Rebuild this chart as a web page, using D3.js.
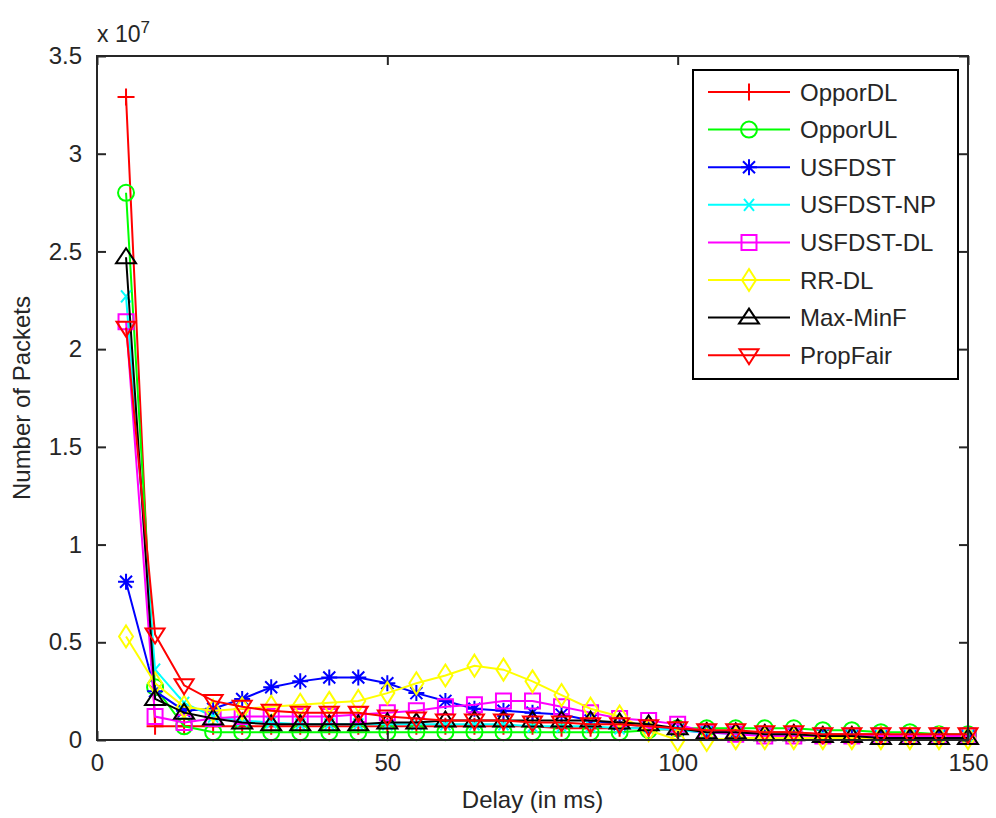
<!DOCTYPE html>
<html>
<head>
<meta charset="utf-8">
<script src="https://cdn.jsdelivr.net/npm/d3@7"></script>
<style>
  html, body { margin: 0; padding: 0; background: #fff; }
  svg { display: block; font-family: "Liberation Sans", Arial, Helvetica, sans-serif; }
</style>
</head>
<body>
<svg id="chart" width="996" height="818"></svg>
<script>
// Delay bins (ms)
const delays = d3.range(5, 151, 5);

// Number of packets per delay bin, in units of 10^7
const opporDL   = [3.29, 0.07, 0.07, 0.07, 0.07, 0.07, 0.07, 0.07, 0.07, 0.07, 0.07, 0.07, 0.07, 0.07, 0.07, 0.06, 0.06, 0.06, 0.06, 0.05, 0.05, 0.04, 0.04, 0.04, 0.03, 0.03, 0.03, 0.02, 0.02, 0.02];
const opporUL   = [2.80, 0.27, 0.07, 0.04, 0.04, 0.04, 0.04, 0.04, 0.04, 0.04, 0.04, 0.04, 0.04, 0.04, 0.04, 0.04, 0.04, 0.04, 0.05, 0.06, 0.06, 0.06, 0.06, 0.06, 0.05, 0.05, 0.04, 0.04, 0.03, 0.03];
const usfdst    = [0.81, 0.25, 0.15, 0.16, 0.21, 0.27, 0.30, 0.32, 0.32, 0.29, 0.24, 0.20, 0.16, 0.15, 0.14, 0.13, 0.10, 0.08, 0.07, 0.05, 0.04, 0.04, 0.03, 0.03, 0.03, 0.02, 0.02, 0.02, 0.02, 0.02];
const usfdstNP  = [2.27, 0.36, 0.19, 0.12, 0.10, 0.09, 0.08, 0.08, 0.08, 0.08, 0.08, 0.08, 0.08, 0.08, 0.07, 0.07, 0.07, 0.06, 0.06, 0.05, 0.04, 0.03, 0.03, 0.03, 0.03, 0.02, 0.02, 0.02, 0.02, 0.02];
const usfdstDL  = [2.14, 0.12, 0.09, 0.11, 0.12, 0.12, 0.12, 0.12, 0.13, 0.14, 0.15, 0.17, 0.18, 0.20, 0.20, 0.17, 0.14, 0.11, 0.10, 0.08, 0.04, 0.03, 0.02, 0.02, 0.02, 0.02, 0.02, 0.02, 0.02, 0.02];
const rrDL      = [0.53, 0.29, 0.17, 0.15, 0.16, 0.17, 0.18, 0.19, 0.20, 0.24, 0.29, 0.33, 0.38, 0.36, 0.30, 0.23, 0.16, 0.12, 0.05, 0.00, 0.00, 0.01, 0.01, 0.01, 0.01, 0.01, 0.01, 0.01, 0.01, 0.01];
const maxMinF   = [2.47, 0.21, 0.14, 0.11, 0.09, 0.08, 0.08, 0.08, 0.08, 0.09, 0.09, 0.10, 0.10, 0.10, 0.10, 0.10, 0.10, 0.09, 0.08, 0.06, 0.04, 0.04, 0.03, 0.03, 0.02, 0.02, 0.01, 0.01, 0.01, 0.01];
const propFair  = [2.11, 0.54, 0.28, 0.20, 0.17, 0.15, 0.14, 0.14, 0.14, 0.12, 0.11, 0.10, 0.10, 0.10, 0.09, 0.09, 0.08, 0.08, 0.07, 0.06, 0.05, 0.05, 0.04, 0.04, 0.03, 0.03, 0.03, 0.03, 0.03, 0.03];

const seriesNames   = ["OpporDL", "OpporUL", "USFDST", "USFDST-NP", "USFDST-DL", "RR-DL", "Max-MinF", "PropFair"];
const seriesValues  = [opporDL, opporUL, usfdst, usfdstNP, usfdstDL, rrDL, maxMinF, propFair];
const seriesColors  = ["#ff0000", "#00ff00", "#0000ff", "#00ffff", "#ff00ff", "#ffff00", "#000000", "#ff0000"];
const seriesMarkers = ["plus", "circle", "star", "cross", "square", "diamond", "triUp", "triDown"];

const xTicks = [0, 50, 100, 150];
const yTicks = [0, 0.5, 1, 1.5, 2, 2.5, 3, 3.5];
const yExponent = 7;

const svg = d3.select("#chart");
const plotBox = { left: 97, right: 968, top: 56, bottom: 740 };

const x = d3.scaleLinear().domain([0, 150]).range([plotBox.left, plotBox.right]);
const y = d3.scaleLinear().domain([0, 3.5]).range([plotBox.bottom, plotBox.top]);

// marker glyphs centred on the origin
const markerPaths = {
  plus:    "M-8.5,0H8.5M0,-8.5V8.5",
  star:    "M-8,0H8M0,-8V8M-6,-6L6,6M-6,6L6,-6",
  cross:   "M-5,-6L5,6M-5,6L5,-6",
  square:  "M-7.5,-7.5H7.5V7.5H-7.5Z",
  diamond: "M0,-11L7,0L0,11L-7,0Z",
  triUp:   "M0,-9L10,6H-10Z",
  triDown: "M0,9L9.5,-6H-9.5Z"
};

function drawMarker(g, type, color) {
  if (type === "circle") {
    g.append("circle").attr("r", 8).attr("fill", "none")
      .attr("stroke", color).attr("stroke-width", 2);
  } else {
    g.append("path").attr("d", markerPaths[type]).attr("fill", "none")
      .attr("stroke", color).attr("stroke-width", 2);
  }
}

// series lines and markers, drawn in legend order
const line = d3.line().x((d, i) => x(delays[i])).y(d => y(d));
const plot = svg.append("g");
seriesValues.forEach((vals, s) => {
  const g = plot.append("g");
  g.append("path").datum(vals).attr("d", line)
    .attr("fill", "none").attr("stroke", seriesColors[s]).attr("stroke-width", 2);
  vals.forEach((v, i) => {
    const m = g.append("g").attr("transform", `translate(${x(delays[i])},${y(v)})`);
    drawMarker(m, seriesMarkers[s], seriesColors[s]);
  });
});

// axes with inward ticks on all four sides
const fmt = d3.format("~g");
const axisColor = "#262626";
const xAxis = svg.append("g").attr("transform", `translate(0,${plotBox.bottom})`)
  .call(d3.axisBottom(x).tickValues(xTicks).tickSizeInner(-9).tickSizeOuter(0).tickPadding(14).tickFormat(fmt));
const xAxisTop = svg.append("g").attr("transform", `translate(0,${plotBox.top})`)
  .call(d3.axisTop(x).tickValues(xTicks).tickSizeInner(-9).tickSizeOuter(0).tickFormat(""));
const yAxis = svg.append("g").attr("transform", `translate(${plotBox.left},0)`)
  .call(d3.axisLeft(y).tickValues(yTicks).tickSizeInner(-9).tickSizeOuter(0).tickPadding(15).tickFormat(fmt));
const yAxisRight = svg.append("g").attr("transform", `translate(${plotBox.right},0)`)
  .call(d3.axisRight(y).tickValues(yTicks).tickSizeInner(-9).tickSizeOuter(0).tickFormat(""));

[xAxis, xAxisTop, yAxis, yAxisRight].forEach(a => {
  a.select(".domain").remove();
  a.selectAll(".tick line").attr("stroke", axisColor).attr("stroke-width", 2);
  a.selectAll(".tick text").attr("fill", axisColor).attr("font-size", 24)
    .attr("font-family", "'Liberation Sans', Arial, sans-serif");
});

// axes box
svg.append("rect").attr("x", plotBox.left).attr("y", plotBox.top)
  .attr("width", plotBox.right - plotBox.left).attr("height", plotBox.bottom - plotBox.top)
  .attr("fill", "none").attr("stroke", axisColor).attr("stroke-width", 2);

// exponent label
const expo = svg.append("text").attr("x", plotBox.left).attr("y", 42)
  .attr("font-size", 23).attr("fill", axisColor);
expo.append("tspan").text("x 10");
expo.append("tspan").attr("dy", -9).attr("font-size", 17).text(yExponent);

// axis titles
svg.append("text").attr("x", (plotBox.left + plotBox.right) / 2).attr("y", 808)
  .attr("text-anchor", "middle").attr("font-size", 24).attr("fill", axisColor)
  .text("Delay (in ms)");
svg.append("text").attr("transform", `translate(30,${(plotBox.top + plotBox.bottom) / 2}) rotate(-90)`)
  .attr("text-anchor", "middle").attr("font-size", 24).attr("fill", axisColor)
  .text("Number of Packets");

// legend
const lg = svg.append("g");
lg.append("rect").attr("x", 693).attr("y", 70).attr("width", 265).attr("height", 309)
  .attr("fill", "#fff").attr("stroke", "#000").attr("stroke-width", 2);
seriesNames.forEach((name, s) => {
  const cy = 92 + s * 37.6;
  lg.append("line").attr("x1", 708).attr("x2", 790).attr("y1", cy).attr("y2", cy)
    .attr("stroke", seriesColors[s]).attr("stroke-width", 2);
  drawMarker(lg.append("g").attr("transform", `translate(749,${cy})`), seriesMarkers[s], seriesColors[s]);
  lg.append("text").attr("x", 800).attr("y", cy).attr("dy", "0.36em")
    .attr("font-size", 24).attr("fill", axisColor).text(name);
});
</script>
</body>
</html>
